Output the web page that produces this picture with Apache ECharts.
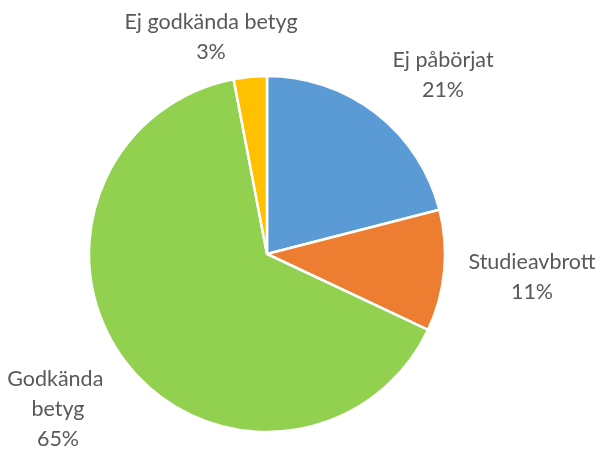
<!DOCTYPE html>
<html>
<head>
<meta charset="utf-8">
<script src="https://cdn.jsdelivr.net/npm/echarts@6/dist/echarts.min.js"></script>
<style>
  html, body { margin: 0; padding: 0; background: #fff; }
  #chart { width: 603px; height: 451px; }
</style>
</head>
<body>
<div id="chart"></div>
<script>
// Outcome shares, in percent
const categories = ['Ej påbörjat', 'Studieavbrott', 'Godkända betyg', 'Ej godkända betyg'];
const shares = [21, 11, 65, 3];
const colors = ['#5B9BD5', '#ED7D31', '#92D050', '#FFC000'];

// Where each label's text block is centred
const labelSpots = [[443, 75], [532, 277], [58, 409], [211, 37]];

const chart = echarts.init(document.getElementById('chart'), null, { renderer: 'canvas' });

chart.setOption({
  animation: false,
  backgroundColor: '#ffffff',
  series: [{
    type: 'pie',
    center: [267, 254],
    radius: [0, 178],
    startAngle: 90,
    clockwise: true,
    data: categories.map((name, i) => ({
      name: name,
      value: shares[i],
      itemStyle: { color: colors[i] },
      label: i === 2 ? { width: 115, overflow: 'break' } : { overflow: 'none' }
    })),
    itemStyle: { borderColor: '#ffffff', borderWidth: 2.5 },
    label: {
      show: true,
      position: 'outside',
      formatter: '{b}\n{c}%',
      color: '#595959',
      fontFamily: 'Lato',
      fontSize: 21.5,
      lineHeight: 30,
      align: 'center',
      overflow: 'none'
    },
    labelLine: { show: false },
    labelLayout: function (params) {
      const p = labelSpots[params.dataIndex];
      return { x: p[0], y: p[1], align: 'center', verticalAlign: 'middle' };
    }
  }]
});
</script>
</body>
</html>
